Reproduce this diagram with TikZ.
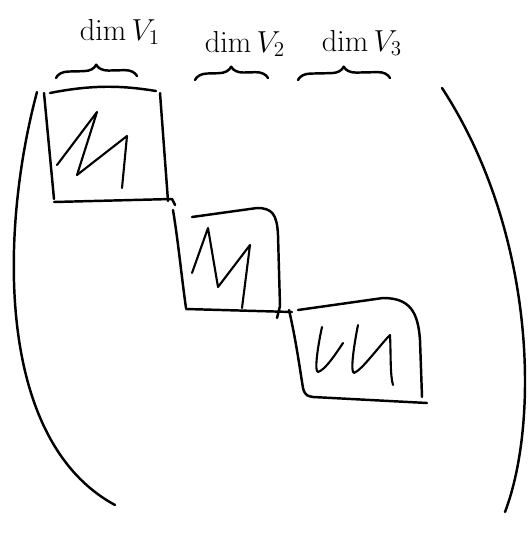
\documentclass[tikz,border=0pt]{standalone}
\usetikzlibrary{decorations.pathreplacing}
\begin{document}
\begin{tikzpicture}[x=0.02cm, y=-0.02cm, line width=1.4pt, line cap=round, line join=round,
    lbl/.style={font=\LARGE, inner sep=0pt},
    brc/.style={decorate, decoration={brace, amplitude=7pt}},
    blk/.style={line width=1.4pt},
    scr/.style={line width=1.2pt}]
  \useasboundingbox (0,0) rectangle (529,534);
  % labels over the blocks
  \node[lbl] (d1) at (120,32) {$\dim V_1$};
  \node[lbl] (d2) at (245,44) {$\dim V_2$};
  \node[lbl] (d3) at (362,43) {$\dim V_3$};
  \coordinate (b1l) at (56,78); \coordinate (b1r) at (137,76);
  \coordinate (b2l) at (195,80); \coordinate (b2r) at (268,78);
  \coordinate (b3l) at (298,80); \coordinate (b3r) at (390,78);
  \draw[brc] (b1l) -- (b1r);
  \draw[brc] (b2l) -- (b2r);
  \draw[brc] (b3l) -- (b3r);
  % block 1
  \draw[blk] (44,93) -- (54,199);
  \draw[blk] (50,93) .. controls (95,84) and (125,86) .. (156,91);
  \draw[blk] (160,93) -- (168,201);
  \draw[blk] (54,202) -- (172,199) -- (175,205);
  \draw[scr] (57,165) -- (97,112) -- (77,175) -- (127,136) -- (122,188);
  % block 2
  \draw[blk] (173,210) .. controls (178,240) and (182,280) .. (186,308);
  \draw[blk] (192,217) -- (257,208) .. controls (272,208) and (277,214) .. (278,235) -- (280,306) -- (277,318);
  \draw[blk] (186,309) -- (292,312);
  \draw[scr] (192,273) -- (208,228) -- (218,287) -- (250,245) -- (242,308);
  % block 3
  \draw[blk] (289,310) .. controls (296,340) and (300,370) .. (303,388) .. controls (305,396) and (308,396) .. (313,397);
  \draw[blk] (298,310) -- (383,298) .. controls (410,298) and (418,312) .. (420,340) -- (422,397);
  \draw[blk] (313,397) -- (427,403);
  \draw[scr] (322,327) .. controls (318,345) and (314,372) .. (318,372) .. controls (325,370) and (335,355) .. (343,343);
  \draw[scr] (358,325) .. controls (354,345) and (350,372) .. (354,373) .. controls (362,370) and (380,345) .. (390,335) .. controls (391,355) and (390,375) .. (393,385);
  % outer brackets
  \draw[blk] (37,92) .. controls (0,230) and (-5,440) .. (115,505);
  \draw[blk] (442,88) .. controls (535,230) and (540,420) .. (505,512);
\end{tikzpicture}
\end{document}
